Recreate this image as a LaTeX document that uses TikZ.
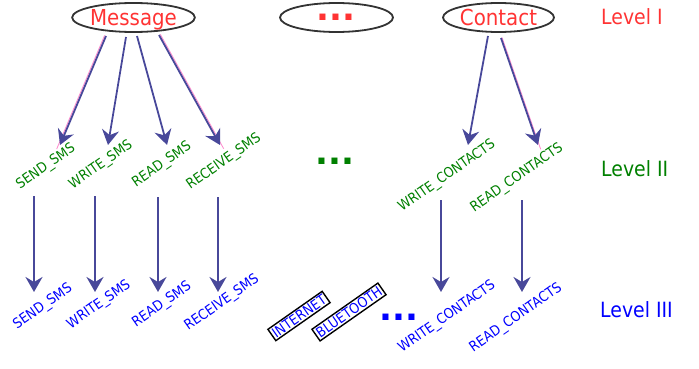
\documentclass[tikz,border=0pt]{standalone}
\usepackage{fontspec}
\setmainfont{DejaVu Sans}[FakeStretch=0.9]
\newfontfamily\dotfont{DejaVu Sans}
\usetikzlibrary{arrows.meta,shapes.geometric}

\definecolor{lvlred}{HTML}{FF3333}
\definecolor{lvlgreen}{HTML}{008000}
\definecolor{lvlblue}{HTML}{0000FF}
\definecolor{arrowc}{HTML}{48489A}
\definecolor{ghost}{HTML}{FF88CC}

\tikzset{
  topnode/.style={ellipse, draw=black!80, line width=1.8pt,
    minimum width=111pt, minimum height=29pt, inner sep=0pt,
    text depth=0pt, text=lvlred, font=\fontsize{22}{22}\selectfont},
  arr/.style={draw=arrowc, line width=1.8pt,
    -{Stealth[length=15pt,width=17pt,inset=5pt]}},
  ghostline/.style={draw=ghost, line width=0.8pt},
  perm/.style={rotate=35, inner sep=0pt, font=\fontsize{14}{14}\selectfont},
  lvtwo/.style={perm, text=lvlgreen},
  lvthree/.style={perm, text=lvlblue},
  boxed/.style={lvthree, draw=black, line width=1.4pt, inner sep=1.8pt},
  dotrow/.style={font=\dotfont\fontsize{34}{34}\selectfont\bfseries, anchor=base, inner sep=0pt},
  lvl/.style={font=\fontsize{21}{21}\selectfont, anchor=west, inner sep=0pt}
}

\begin{document}
\begin{tikzpicture}[x=1pt,y=-1pt]
\useasboundingbox (0,0) rectangle (699,369);

% Level I: resource groups
\node[topnode] (msg) at (133.5,17.5) {Message};
\node[topnode, minimum width=113pt] (more) at (336.5,17.5) {};
\node[dotrow, text=lvlred] (moredots) at (336,21) {...};
\node[topnode] (contact) at (498.5,17.5) {Contact};

% Level II: permissions
\node[lvtwo] (s2) at (46,167) {SEND\_SMS};
\node[lvtwo] (w2) at (101,165) {WRITE\_SMS};
\node[lvtwo] (r2) at (162,165) {READ\_SMS};
\node[lvtwo] (rc2) at (224,162) {RECEIVE\_SMS};
\node[dotrow, text=lvlgreen] (dots2) at (335,164) {...};
\node[lvtwo] (wc2) at (447,176) {WRITE\_CONTACTS};
\node[lvtwo] (rd2) at (517,178) {READ\_CONTACTS};

% Level III: permissions
\node[lvthree] (s3) at (43,307) {SEND\_SMS};
\node[lvthree] (w3) at (99,305) {WRITE\_SMS};
\node[lvthree] (r3) at (162,305) {READ\_SMS};
\node[lvthree] (rc3) at (222,303) {RECEIVE\_SMS};
\node[boxed] (inet) at (299,316) {INTERNET};
\node[boxed] (bt) at (349,312) {BLUETOOTH};
\node[dotrow, text=lvlblue] (dots3) at (399,320) {...};
\node[lvthree] (wc3) at (447,317) {WRITE\_CONTACTS};
\node[lvthree] (rd3) at (516,318) {READ\_CONTACTS};

% Level captions
\node[lvl, text=lvlred] (lv1) at (601,17) {Level I};
\node[lvl, text=lvlgreen] (lv2) at (601,169) {Level II};
\node[lvl, text=lvlblue] (lv3) at (600,310) {Level III};

% Arrow end points
\coordinate (ms1) at (106,36);  \coordinate (me1) at (60,145);
\coordinate (ms2) at (126,37);  \coordinate (me2) at (108,145);
\coordinate (ms3) at (137,36);  \coordinate (me3) at (167,145);
\coordinate (ms4) at (159,35);  \coordinate (me4) at (220,145);
\coordinate (cs1) at (488,36);  \coordinate (ce1) at (468,145);
\coordinate (cs2) at (501,38);  \coordinate (ce2) at (538,145);

\coordinate (vs1) at (34,196);  \coordinate (ve1) at (34,292);
\coordinate (vs2) at (95,196);  \coordinate (ve2) at (95,292);
\coordinate (vs3) at (158,197); \coordinate (ve3) at (158,292);
\coordinate (vs4) at (218,197); \coordinate (ve4) at (218,292);
\coordinate (vs5) at (441,200); \coordinate (ve5) at (441,292);
\coordinate (vs6) at (522,200); \coordinate (ve6) at (522,292);

% thin pink edges running beside some of the upper arrows
\coordinate (gs1) at (104.6,35.4); \coordinate (ge1) at (56.7,149);
\coordinate (gs4) at (160.3,34.3); \coordinate (ge4) at (223.7,148.7);
\coordinate (gs6) at (502.1,37.6); \coordinate (ge6) at (540.7,149.3);
\draw[ghostline] (gs1) -- (ge1);
\draw[ghostline] (gs4) -- (ge4);
\draw[ghostline] (gs6) -- (ge6);

% Level I -> Level II
\draw[arr] (ms1) -- (me1);
\draw[arr] (ms2) -- (me2);
\draw[arr] (ms3) -- (me3);
\draw[arr] (ms4) -- (me4);
\draw[arr] (cs1) -- (ce1);
\draw[arr] (cs2) -- (ce2);

% Level II -> Level III
\draw[arr] (vs1) -- (ve1);
\draw[arr] (vs2) -- (ve2);
\draw[arr] (vs3) -- (ve3);
\draw[arr] (vs4) -- (ve4);
\draw[arr] (vs5) -- (ve5);
\draw[arr] (vs6) -- (ve6);
\end{tikzpicture}
\end{document}
